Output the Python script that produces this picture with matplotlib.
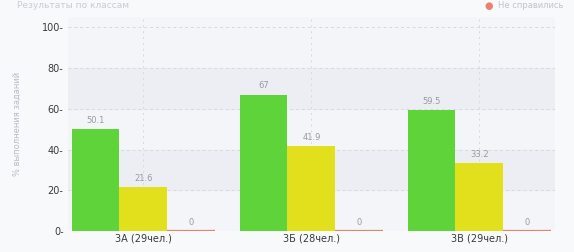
import matplotlib.pyplot as plt
import numpy as np

groups = ["3А (29чел.)", "3Б (28чел.)", "3В (29чел.)"]
green_vals = [50.1, 67, 59.5]
yellow_vals = [21.6, 41.9, 33.2]
red_vals = [0, 0, 0]
green_labels = ["50.1", "67", "59.5"]
yellow_labels = ["21.6", "41.9", "33.2"]
red_labels = ["0", "0", "0"]
yticks = [0, 20, 40, 60, 80, 100]

fig = plt.figure(figsize=(5.74, 2.52), dpi=100, facecolor="#f8f9fb")
ax = fig.add_axes([0.118, 0.083, 0.849, 0.849])
ax.set_facecolor("#f3f5f9")

# soft bands
for lo, hi in [(20, 40), (60, 80)]:
    ax.axhspan(lo, hi, color="#eceef3", zorder=0)

x = np.arange(len(groups))
w = 0.285
ax.bar(x - w, green_vals, w, color="#5fd43a", zorder=3)
ax.bar(x, yellow_vals, w, color="#e2df1c", zorder=3)
ax.bar(x + w, red_vals, w, color="#e9826c", edgecolor="#e9826c",
       linewidth=1.6, zorder=3)

for xs, vals, labs in [(x - w, green_vals, green_labels),
                       (x, yellow_vals, yellow_labels),
                       (x + w, red_vals, red_labels)]:
    for xi, v, t in zip(xs, vals, labs):
        ax.text(xi, v + 2, t, ha="center", va="bottom", fontsize=6,
                color="#9a9a9a", zorder=4)

ax.set_xlim(-0.45, 2.45)
ax.set_ylim(0, 105)
ax.set_yticks(yticks)
ax.set_yticklabels([f"{t}-" for t in yticks])
ax.set_xticks(x)
ax.set_xticklabels(groups)
ax.tick_params(length=0, labelsize=7, colors="#3a3a3a", pad=3)
ax.tick_params(axis="x", pad=2)
ax.grid(axis="y", color="#d6d9df", linestyle=(0, (3, 3)), linewidth=0.7, zorder=1)
ax.grid(axis="x", color="#d6d9df", linestyle=(0, (2, 4)), linewidth=0.7, zorder=1)
for s in ax.spines.values():
    s.set_visible(False)

ax.set_ylabel("% выполнения заданий", fontsize=6, color="#b8bcc4", labelpad=14)

# top texts
fig.text(0.03, 0.995, "Результаты по классам", fontsize=6.5, color="#c8cbd0",
         ha="left", va="top")
fig.text(0.852, 0.995, "●", fontsize=7, color="#e9826c", ha="center", va="top")
fig.text(0.868, 0.995, "Не справились", fontsize=6, color="#c0c3c8",
         ha="left", va="top")

fig.savefig("out.png", dpi=100, facecolor=fig.get_facecolor())
